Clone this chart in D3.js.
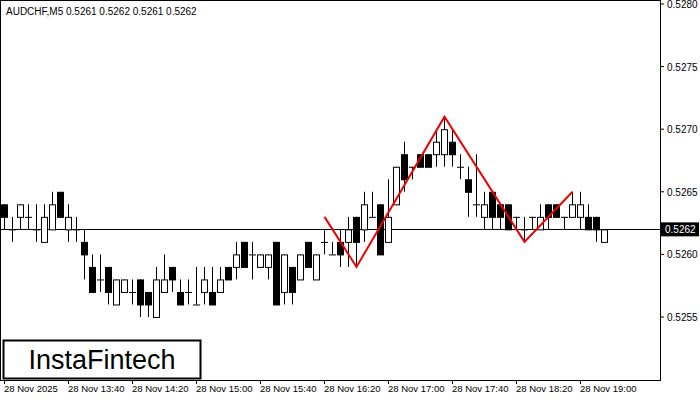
<!DOCTYPE html>
<html><head><meta charset="utf-8">
<script src="https://cdn.jsdelivr.net/npm/d3@7"></script>
<style>body{margin:0;background:#fff}text{font-family:"Liberation Sans",Arial,sans-serif}</style>
</head><body><svg id="c" width="700" height="400"></svg>
<script>
// candles: open, high, low, close
var opens  = [.5264,.5262,.5263,.5263,.5262,.5261,.5262,.5265,.5262,.5262,.5261,.5259,.5258,.5259,.5256,.5257,.5257,.5258,.5257,.5255,.5257,.5259,.5257,.5257,.5256,.5257,.5257,.5257,.5259,.5259,.5261,.5260,.5259,.5259,.5261,.5257,.5259,.5258,.5261,.5258,.5261,.5260,.5261,.5261,.5263,.5262,.5263,.5264,.5261,.5264,.5268,.5267,.5268,.5268,.5268,.5268,.5269,.5267,.5266,.5264,.5263,.5265,.5264,.5264,.5263,.5262,.5263,.5262,.5264,.5264,.5263,.5263,.5263,.5263,.5263,.5261];
var highs  = [.5264,.5263,.5264,.5264,.5264,.5264,.5265,.5265,.5264,.5263,.5262,.5260,.5260,.5259,.5258,.5258,.5258,.5258,.5257,.5259,.5260,.5259,.5258,.5258,.5259,.5259,.5259,.5259,.5259,.5261,.5261,.5261,.5260,.5260,.5261,.5260,.5259,.5260,.5261,.5260,.5262,.5261,.5262,.5263,.5263,.5265,.5265,.5264,.5266,.5267,.5269,.5267,.5268,.5268,.5270,.5271,.5270,.5268,.5267,.5268,.5265,.5265,.5264,.5264,.5263,.5263,.5263,.5264,.5264,.5264,.5263,.5265,.5265,.5264,.5263,.5262];
var lows   = [.5262,.5261,.5262,.5262,.5261,.5261,.5262,.5263,.5261,.5261,.5258,.5257,.5257,.5256,.5256,.5257,.5256,.5255,.5255,.5255,.5257,.5257,.5256,.5256,.5256,.5256,.5256,.5257,.5258,.5258,.5259,.5258,.5259,.5258,.5256,.5256,.5256,.5258,.5259,.5258,.5260,.5260,.5259,.5259,.5259,.5261,.5263,.5260,.5261,.5264,.5265,.5266,.5267,.5267,.5267,.5267,.5267,.5266,.5263,.5263,.5262,.5262,.5262,.5262,.5262,.5261,.5262,.5262,.5262,.5263,.5262,.5263,.5262,.5262,.5261,.5261];
var closes = [.5263,.5262,.5264,.5263,.5262,.5263,.5264,.5263,.5263,.5262,.5260,.5257,.5258,.5257,.5258,.5258,.5257,.5256,.5256,.5258,.5258,.5258,.5256,.5257,.5256,.5258,.5256,.5258,.5258,.5260,.5259,.5260,.5260,.5260,.5256,.5260,.5257,.5260,.5259,.5260,.5261,.5260,.5260,.5262,.5261,.5264,.5263,.5260,.5263,.5267,.5266,.5267,.5267,.5267,.5269,.5270,.5268,.5267,.5265,.5264,.5264,.5263,.5263,.5262,.5263,.5262,.5263,.5263,.5263,.5263,.5263,.5264,.5264,.5262,.5262,.5262];
var timeLabels = ["28 Nov 2025","28 Nov 13:40","28 Nov 14:20","28 Nov 15:00","28 Nov 15:40","28 Nov 16:20","28 Nov 17:00","28 Nov 17:40","28 Nov 18:20","28 Nov 19:00"];
var priceTicks = [0.5255,0.5260,0.5265,0.5270,0.5275,0.5280];
// pattern points: candle index, price
var patIdx = [40,44,55,65,71];
var patPrice = [.5263,.5259,.5271,.5261,.5265];
var lastPrice = 0.5262;

var svg = d3.select("#c");
var W = 660, H = 380;
var x = d3.scaleLinear().domain([0,1]).range([4,12]);
var y = d3.scaleLinear().domain([0.5255,0.5280]).range([317,4]);

svg.append("rect").attr("x",0.5).attr("y",0.5).attr("width",W).attr("height",H)
    .attr("fill","none").attr("stroke","#000");

svg.append("line").attr("x1",0).attr("x2",W).attr("y1",Math.round(y(lastPrice))+0.5).attr("y2",Math.round(y(lastPrice))+0.5)
    .attr("stroke","#000");

var c = svg.append("g").selectAll("g").data(opens).enter().append("g");
c.append("line")
    .attr("x1",function(d,i){return x(i)+0.5}).attr("x2",function(d,i){return x(i)+0.5})
    .attr("y1",function(d,i){return y(highs[i])}).attr("y2",function(d,i){return y(lows[i])})
    .attr("stroke","#000");
c.append("rect")
    .attr("x",function(d,i){return x(i)-2.5})
    .attr("width",6)
    .attr("y",function(d,i){return Math.min(y(d),y(closes[i]))+0.5})
    .attr("height",function(d,i){return Math.max(0.01,Math.abs(y(d)-y(closes[i])))})
    .attr("fill",function(d,i){return closes[i]>=d?"#fff":"#000"})
    .attr("stroke","#000");

svg.append("path")
    .attr("d",d3.line().x(function(d){return x(d)+0.5}).y(function(d,i){return y(patPrice[i])})(patIdx))
    .attr("fill","none").attr("stroke","#e00").attr("stroke-width",2);

var ya = svg.append("g").attr("transform","translate("+W+",0)");
priceTicks.forEach(function(p){
    ya.append("line").attr("x1",0).attr("x2",4).attr("y1",y(p)).attr("y2",y(p)).attr("stroke","#000");
    ya.append("text").attr("x",7).attr("y",y(p)+4).attr("font-size",10).text(p.toFixed(4));
});
ya.append("rect").attr("x",1).attr("y",y(lastPrice)-7).attr("width",38).attr("height",14).attr("fill","#000");
ya.append("text").attr("x",5).attr("y",y(lastPrice)+4).attr("font-size",10).attr("fill","#fff").text(lastPrice.toFixed(4));

var xa = svg.append("g");
timeLabels.forEach(function(t,i){
    xa.append("line").attr("x1",x(i*8)+0.5).attr("x2",x(i*8)+0.5).attr("y1",H).attr("y2",H+4).attr("stroke","#000");
    xa.append("text").attr("x",x(i*8)).attr("y",H+12).attr("font-size",9.5).text(t);
});

svg.append("text").attr("x",6).attr("y",15).attr("font-size",10).text("AUDCHF,M5  0.5261 0.5262 0.5261 0.5262");

svg.append("rect").attr("x",3.5).attr("y",340.5).attr("width",197).attr("height",38)
    .attr("fill","#fff").attr("stroke","#000").attr("stroke-width",2);
svg.append("text").attr("x",102).attr("y",369).attr("text-anchor","middle")
    .attr("font-size",27).attr("font-family","Roboto, sans-serif").text("InstaFintech");
</script></body></html>
